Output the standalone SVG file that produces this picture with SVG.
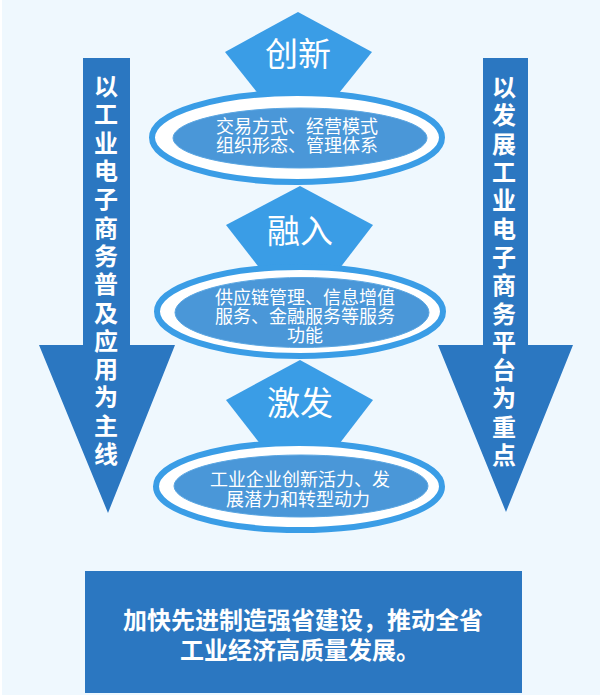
<svg xmlns="http://www.w3.org/2000/svg" width="600" height="695" viewBox="0 0 600 695">
<defs>
<style>
.bg{fill:#eff8fe}
.dia{fill:#3a9de6}
.ring{fill:#ffffff;stroke:#3a9de6;stroke-width:6}
.inner{fill:#4a97d8;stroke:#5aa6e2;stroke-width:1}
.arrow{fill:#2b77c1}
.t{font-family:"Noto Sans CJK SC","Noto Sans",sans-serif;fill:#ffffff;text-anchor:middle}
.title{font-size:33px}
.body{font-size:18px}
.side{font-family:"Noto Sans CJK SC","Noto Sans",sans-serif;fill:#ffffff;font-size:24px;font-weight:bold;writing-mode:vertical-rl;text-anchor:start;letter-spacing:4.3px}
.box{font-size:24px;font-weight:bold}
</style>
</defs>
<rect class="bg" x="0" y="0" width="600" height="695"/>
<rect x="0" y="0" width="2" height="695" fill="#ffffff"/>

<g id="left-arrow">
<polygon class="arrow" points="83,58 130,58 130,345 175,345 108,513 39,345 83,345"/>
<text class="side" x="106" y="74">以工业电子商务普及应用为主线</text>
</g>

<g id="right-arrow">
<polygon class="arrow" points="483,58 528,58 528,345 573,345 506,512 438,345 483,345"/>
<text class="side" x="504" y="75">以发展工业电子商务平台为重点</text>
</g>

<g id="node-chuangxin">
<polygon class="dia" points="298,12 372,52 298,144 225,52"/>
<text class="t title" x="298" y="66">创新</text>
</g>
<g id="ellipse-1">
<ellipse class="ring" cx="297" cy="137.5" rx="145" ry="44.5"/>
<ellipse class="inner" cx="300" cy="138" rx="127" ry="30"/>
<text class="t body" x="297" y="133">交易方式、经营模式</text>
<text class="t body" x="297" y="152">组织形态、管理体系</text>
</g>

<g id="node-rongru">
<polygon class="dia" points="300,186 373,225 300,320 226,225"/>
<text class="t title" x="300" y="243">融入</text>
</g>
<g id="ellipse-2">
<ellipse class="ring" cx="300" cy="311.5" rx="143" ry="44.5"/>
<ellipse class="inner" cx="302" cy="312.5" rx="127" ry="35"/>
<text class="t body" x="305" y="304">供应链管理、信息增值</text>
<text class="t body" x="305" y="323">服务、金融服务等服务</text>
<text class="t body" x="305" y="342">功能</text>
</g>

<g id="node-jifa">
<polygon class="dia" points="300,360 373,400 300,495 226,400"/>
<text class="t title" x="300" y="415">激发</text>
</g>
<g id="ellipse-3">
<ellipse class="ring" cx="299" cy="486.5" rx="143" ry="43.5"/>
<ellipse class="inner" cx="301" cy="486" rx="127" ry="31"/>
<text class="t body" x="300" y="486">工业企业创新活力、发</text>
<text class="t body" x="298" y="506">展潜力和转型动力</text>
</g>

<g id="bottom-box">
<rect class="arrow" x="85" y="571" width="437" height="122"/>
<text class="t box" x="303" y="629">加快先进制造强省建设，推动全省</text>
<text class="t box" x="300" y="659">工业经济高质量发展。</text>
</g>

<g id="connectors"></g>
</svg>
